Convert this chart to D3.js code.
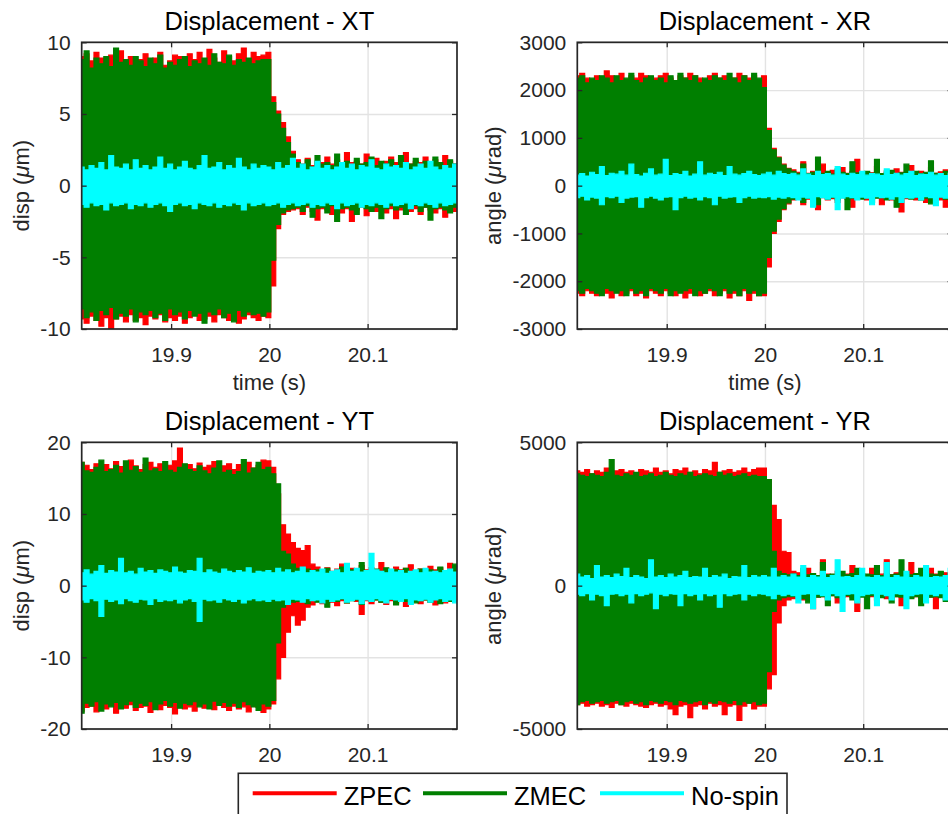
<!DOCTYPE html>
<html>
<head>
<meta charset="utf-8">
<script src="https://cdn.jsdelivr.net/npm/d3@7"></script>
<style>
  body { margin: 0; background: #fff; }
  svg { display: block; font-family: "Liberation Sans", Arial, Helvetica, sans-serif; }
</style>
</head>
<body>
<svg id="chart" width="948" height="814"></svg>
<script>
// logged samples: one envelope value (upper / lower) every 5 ms from t = 19.809 s
const sampleStart = 19.809;
const sampleStep = 0.005;

const timeDomain = [19.809, 20.191];
const timeTicks = [19.9, 20, 20.1];

const seriesNames = ["ZPEC", "ZMEC", "No-spin"];
const seriesColors = ["#ff0000", "#007f00", "#00ffff"];

// ---- XT (um)
const xtTicks = [-10, -5, 0, 5, 10];
const xtZpecHi = [9.0,9.2,8.7,9.3,8.9,8.6,9.1,8.8,9.4,8.7,9.0,8.5,8.8,9.2,8.6,8.9,9.3,8.4,8.7,9.1,9.0,8.6,9.2,8.8,9.3,8.7,9.5,8.9,8.6,9.4,9.0,8.7,9.2,9.6,8.8,9.3,9.0,9.1,
  9.3,6.2,5.2,4.4,3.4,2.4,
  1.8,1.5,1.9,1.4,1.7,1.6,2.0,1.5,1.8,1.4,2.3,1.6,1.7,1.5,2.2,1.6,1.9,1.5,1.7,2.0,1.6,1.8,2.3,1.5,1.7,1.6,2.0,1.5,1.8,1.6,2.1,1.7,1.5,1.8];
const xtZpecLo = [-9.3,-9.6,-9.1,-9.4,-9.8,-9.2,-10.0,-9.3,-9.1,-9.5,-9.0,-9.4,-9.2,-9.7,-9.1,-9.3,-9.0,-9.5,-9.2,-9.4,-9.1,-9.6,-9.2,-9.0,-9.4,-9.3,-9.1,-9.5,-9.0,-9.2,-9.4,-9.1,-9.6,-9.3,-9.0,-9.2,-9.4,-9.1,
  -9.2,-7.0,-3.0,-2.0,-1.8,-1.7,
  -1.6,-2.0,-1.5,-1.8,-2.4,-1.6,-1.7,-2.0,-1.5,-1.9,-1.6,-2.5,-1.7,-1.5,-2.1,-1.6,-1.8,-1.5,-1.9,-1.6,-2.3,-1.7,-1.5,-1.8,-1.6,-2.0,-1.5,-1.7,-1.9,-1.6,-2.2,-1.5,-1.8,-1.6];
const xtZmecHi = [8.8,9.4,8.2,8.9,8.5,9.0,8.3,9.6,8.6,8.8,8.4,9.0,8.7,8.3,8.9,8.5,9.1,8.2,8.6,8.4,8.8,9.0,8.3,8.7,8.5,8.9,8.4,9.2,8.6,8.5,9.1,8.4,8.8,8.6,8.9,8.5,8.7,8.8,
  8.8,5.8,5.0,4.0,3.0,2.2,
  1.6,1.4,1.8,1.3,2.1,1.5,1.6,1.4,2.2,1.5,1.7,1.3,1.9,1.5,1.6,2.0,1.4,1.7,1.5,1.8,1.4,2.1,1.6,1.5,1.9,1.4,1.7,1.5,2.0,1.6,1.4,1.8,1.5,1.7];
const xtZmecLo = [-8.6,-9.2,-8.8,-9.4,-8.7,-9.0,-8.5,-9.3,-8.9,-9.1,-8.6,-9.5,-8.8,-9.0,-8.7,-9.2,-8.9,-9.4,-8.6,-9.0,-8.8,-9.3,-8.7,-9.1,-8.9,-9.6,-8.8,-9.0,-8.6,-9.2,-8.9,-9.5,-8.7,-9.1,-8.8,-9.0,-8.9,-9.1,
  -8.8,-5.2,-2.7,-1.9,-1.7,-1.6,
  -1.5,-1.8,-1.4,-2.2,-1.6,-1.5,-1.9,-1.4,-2.5,-1.6,-1.5,-1.7,-2.0,-1.4,-1.6,-1.8,-1.5,-2.3,-1.6,-1.4,-1.7,-1.5,-2.0,-1.6,-1.4,-1.8,-1.5,-2.4,-1.6,-1.5,-1.7,-1.9,-1.5,-1.6];
const xtNoSpinHi = [1.3,1.1,1.4,1.2,1.6,1.1,2.1,1.3,1.2,1.5,1.1,1.8,1.2,1.4,1.1,1.3,2.0,1.2,1.5,1.1,1.3,1.7,1.2,1.1,1.4,2.1,1.2,1.3,1.6,1.1,1.4,1.2,1.9,1.3,1.1,1.5,1.2,1.4,
  1.3,1.1,1.6,1.2,1.4,1.9,
  1.2,1.5,1.1,1.3,1.7,1.2,1.4,1.1,1.3,1.6,1.2,1.5,1.1,1.4,1.3,1.8,1.2,1.1,1.5,1.3,1.4,1.2,1.6,1.1,1.3,1.5,1.2,1.7,1.3,1.1,1.4,1.2,1.5,1.3];
const xtNoSpinLo = [-1.3,-1.5,-1.2,-1.4,-1.3,-1.7,-1.2,-1.4,-1.3,-1.2,-1.6,-1.3,-1.4,-1.2,-1.5,-1.3,-1.2,-1.4,-1.8,-1.3,-1.2,-1.4,-1.3,-1.6,-1.2,-1.3,-1.4,-1.2,-1.5,-1.3,-1.4,-1.2,-1.3,-1.7,-1.2,-1.4,-1.3,-1.2,
  -1.4,-1.3,-1.2,-1.5,-1.3,-1.2,
  -1.4,-1.3,-1.2,-1.5,-1.3,-1.4,-1.2,-1.3,-1.6,-1.2,-1.4,-1.3,-1.2,-1.5,-1.3,-1.4,-1.2,-1.3,-1.5,-1.2,-1.4,-1.3,-1.2,-1.6,-1.3,-1.4,-1.2,-1.3,-1.5,-1.2,-1.4,-1.3,-1.2,-1.4];

// ---- XR (urad)
const xrTicks = [-3000, -2000, -1000, 0, 1000, 2000, 3000];
const xrZpecHi = [2300,2350,2250,2200,2300,2250,2400,2300,2250,2350,2200,2300,2250,2350,2300,2200,2250,2300,2350,2250,2200,2300,2250,2350,2300,2250,2200,2300,2350,2250,2300,2200,2250,2350,2300,2250,2300,2200,
  2300,1200,780,600,450,360,
  330,280,500,260,300,250,450,270,320,240,380,260,300,550,250,290,270,400,250,310,260,350,280,240,420,270,300,250,380,260,290,330,250,300];
const xrZpecLo = [-2250,-2300,-2200,-2250,-2300,-2200,-2250,-2350,-2200,-2300,-2250,-2200,-2300,-2250,-2350,-2200,-2250,-2300,-2200,-2250,-2300,-2200,-2350,-2250,-2200,-2300,-2250,-2200,-2300,-2250,-2200,-2350,-2250,-2300,-2200,-2400,-2250,-2300,
  -2300,-1700,-1000,-750,-500,-380,
  -300,-250,-400,-280,-260,-500,-250,-300,-270,-350,-250,-280,-450,-260,-250,-300,-280,-250,-400,-260,-300,-250,-550,-270,-250,-300,-260,-350,-250,-280,-300,-450,-260,-280];
const xrZmecHi = [2250,2300,2150,2250,2200,2300,2250,2150,2300,2200,2250,2350,2200,2150,2250,2300,2200,2250,2150,2300,2200,2350,2250,2200,2300,2150,2250,2200,2300,2250,2200,2350,2250,2150,2300,2200,2350,2250,
  2050,1150,750,580,430,350,
  300,260,450,250,280,600,260,300,240,350,280,250,500,270,240,300,260,550,250,280,320,240,270,450,260,300,250,280,520,260,240,300,270,600];
const xrZmecLo = [-2200,-2250,-2150,-2200,-2250,-2300,-2150,-2200,-2250,-2200,-2300,-2150,-2250,-2200,-2300,-2150,-2200,-2250,-2150,-2300,-2200,-2250,-2200,-2150,-2300,-2200,-2250,-2150,-2200,-2300,-2150,-2250,-2200,-2300,-2150,-2250,-2200,-2300,
  -2250,-1500,-950,-700,-480,-360,
  -280,-240,-350,-260,-250,-400,-240,-280,-250,-300,-240,-500,-260,-250,-280,-240,-350,-260,-250,-300,-240,-450,-260,-250,-280,-240,-300,-260,-380,-250,-240,-280,-260,-500];
const xrNoSpinHi = [220,250,200,280,230,400,210,260,240,300,220,450,230,200,260,350,220,240,550,210,250,230,300,200,240,500,220,260,230,280,210,400,240,220,250,300,230,210,
  240,280,220,300,250,230,
  260,220,350,240,210,300,230,250,220,400,240,210,260,230,300,220,250,240,210,350,230,260,220,250,300,210,240,230,280,220,250,210,260,240];
const xrNoSpinLo = [-250,-220,-300,-240,-260,-400,-230,-250,-220,-350,-260,-240,-230,-450,-250,-220,-260,-300,-240,-230,-500,-250,-220,-260,-240,-300,-230,-250,-400,-220,-260,-240,-230,-350,-250,-220,-260,-240,
  -250,-230,-280,-240,-260,-230,
  -250,-300,-240,-260,-450,-230,-250,-280,-240,-500,-260,-230,-250,-300,-240,-260,-400,-230,-250,-240,-280,-230,-350,-250,-260,-240,-300,-230,-250,-420,-240,-260,-230,-300];

// ---- YT (um)
const ytTicks = [-20, -10, 0, 10, 20];
const ytZpecHi = [17.2,16.8,16.2,17.0,16.5,16.9,16.3,17.3,16.6,16.4,17.5,16.7,16.2,16.9,17.2,16.5,17.0,16.4,16.8,17.4,19.2,16.6,16.9,16.3,17.1,16.5,16.8,17.3,16.4,16.7,17.0,16.2,16.9,16.6,17.2,16.4,16.8,17.5,
  17.4,16.5,12.8,8.5,7.2,6.0,
  5.2,4.9,5.6,3.0,2.6,2.2,2.5,2.0,2.3,3.0,2.1,2.4,2.0,2.8,2.2,2.5,2.1,3.2,2.3,2.0,2.6,2.2,2.4,2.9,2.1,2.3,2.0,2.7,2.2,2.5,2.1,3.1,2.4,2.2];
const ytZpecLo = [-17.5,-17.0,-16.8,-17.6,-16.9,-17.2,-16.7,-17.8,-16.9,-17.1,-16.6,-17.4,-17.0,-16.8,-17.7,-16.9,-17.3,-16.7,-17.0,-17.9,-16.8,-17.2,-16.9,-17.5,-16.7,-17.1,-16.8,-17.3,-16.6,-17.0,-17.4,-16.8,-17.2,-16.9,-17.6,-16.8,-17.0,-17.7,
  -17.2,-16.5,-13.0,-10.0,-6.5,-4.2,
  -5.5,-4.8,-3.0,-2.7,-2.2,-2.5,-2.0,-2.3,-2.8,-2.1,-2.4,-2.0,-2.2,-4.0,-2.1,-2.5,-2.0,-2.3,-2.6,-2.1,-2.4,-2.0,-2.9,-2.2,-2.1,-2.5,-2.0,-2.3,-2.7,-2.1,-2.4,-2.0,-2.2,-2.6];
const ytZmecHi = [17.2,16.0,15.8,16.5,17.5,15.9,16.2,16.8,15.7,17.4,16.1,16.6,15.8,17.8,16.0,16.3,15.9,17.3,16.1,15.8,16.5,17.0,16.2,15.9,16.7,16.0,15.6,16.4,17.4,15.8,16.1,15.5,15.9,17.6,15.7,16.4,17.2,16.2,
  16.5,15.6,14.2,4.8,4.4,3.0,
  2.4,2.0,2.3,1.9,2.2,2.0,2.4,1.8,2.1,2.6,1.9,2.2,2.0,3.2,2.1,1.9,2.3,2.0,2.5,1.9,2.2,2.0,2.4,1.8,2.1,2.3,1.9,2.2,2.0,2.6,1.9,2.2,3.0,2.1];
const ytZmecLo = [-17.8,-16.4,-16.8,-16.2,-17.5,-16.5,-16.9,-16.3,-17.2,-16.6,-16.1,-17.0,-16.4,-16.7,-16.2,-17.3,-16.5,-16.0,-16.8,-16.3,-17.1,-16.4,-16.6,-16.2,-16.9,-16.5,-17.2,-16.1,-16.7,-16.3,-16.8,-16.4,-17.0,-16.2,-16.6,-16.9,-17.4,-16.5,
  -16.8,-16.0,-8.0,-3.0,-2.5,-2.3,
  -2.2,-2.0,-2.5,-1.9,-2.3,-2.1,-3.0,-2.0,-2.2,-1.9,-2.4,-2.1,-2.0,-2.6,-1.9,-2.2,-2.0,-2.3,-2.1,-1.9,-2.7,-2.0,-2.2,-1.9,-2.4,-2.1,-2.0,-2.3,-1.9,-2.5,-2.0,-2.2,-1.9,-2.3];
const ytNoSpinHi = [1.8,2.2,1.6,2.0,2.8,1.7,2.1,1.9,3.8,1.8,2.0,1.6,2.4,1.9,2.1,1.7,2.2,2.0,1.8,2.6,1.9,1.7,2.1,2.0,3.8,1.8,2.2,1.9,1.7,2.3,2.0,1.8,2.1,1.9,2.5,1.7,2.0,1.9,
  2.1,1.8,2.4,1.9,2.2,1.8,
  2.0,2.6,1.8,2.1,1.9,2.3,1.7,2.0,2.2,1.8,3.1,2.0,2.4,1.9,2.1,4.5,2.2,2.0,1.8,2.3,1.9,2.1,1.7,2.0,2.2,1.8,2.4,1.9,2.0,1.8,2.1,2.3,1.9,2.0];
const ytNoSpinLo = [-2.0,-2.3,-1.8,-2.1,-4.3,-1.9,-2.2,-2.0,-2.5,-1.8,-2.1,-2.3,-1.9,-2.0,-2.6,-1.8,-2.2,-2.0,-2.1,-1.9,-2.4,-2.0,-1.8,-2.2,-5.0,-1.9,-2.1,-2.0,-2.3,-1.8,-2.0,-2.2,-1.9,-2.4,-2.0,-1.8,-2.1,-2.0,
  -2.2,-1.9,-2.1,-2.0,-2.6,-1.9,
  -2.0,-2.3,-1.8,-2.1,-2.0,-2.4,-1.9,-2.2,-2.0,-1.8,-2.3,-2.1,-1.9,-2.5,-2.0,-2.2,-1.8,-2.1,-2.4,-1.9,-2.0,-2.2,-1.8,-2.6,-2.0,-2.1,-1.9,-2.3,-2.0,-1.8,-2.2,-2.0,-2.4,-1.9];

// ---- YR (urad)
const yrTicks = [-5000, 0, 5000];
const yrZpecHi = [4000,3950,4050,3900,4000,3950,4100,3900,4000,4050,3950,4000,3900,4050,4000,3950,4100,3950,4000,3900,4050,4000,4100,3950,4000,3900,4050,4000,4300,3950,4000,4050,3950,4000,4100,3950,4050,4100,
  4100,3700,2800,2300,1200,1150,
  500,450,350,600,400,350,900,400,350,500,380,400,700,350,420,380,600,350,400,900,380,450,350,400,800,380,420,350,600,400,380,450,350,500];
const yrZpecLo = [-4150,-4100,-4200,-4150,-4100,-4200,-4150,-4250,-4100,-4150,-4200,-4100,-4150,-4200,-4250,-4150,-4100,-4200,-4150,-4300,-4500,-4200,-4150,-4600,-4200,-4150,-4300,-4100,-4200,-4150,-4500,-4200,-4150,-4700,-4200,-4100,-4300,-4200,
  -4200,-3600,-3100,-1300,-700,-500,
  -450,-400,-500,-350,-800,-400,-380,-450,-350,-600,-400,-380,-420,-900,-350,-400,-380,-500,-350,-450,-400,-380,-700,-350,-420,-380,-450,-350,-400,-800,-380,-400,-350,-600];
const yrZmecHi = [3900,3850,3800,3900,3850,3800,3950,4400,3850,3800,3900,3850,3950,3800,3850,3900,3800,3850,3950,3850,3800,3900,3850,3950,3800,3850,3900,3850,3800,3950,3850,3900,3800,3850,3900,3800,3850,3800,
  3800,3700,1200,500,420,380,
  400,350,600,380,420,350,800,380,400,350,500,380,420,600,350,400,380,700,350,420,380,400,900,350,380,420,600,350,400,380,500,350,420,380];
const yrZmecLo = [-4150,-4050,-4000,-4100,-4050,-4000,-4100,-4050,-4000,-4150,-4050,-4000,-4100,-4050,-4150,-4000,-4050,-4100,-4000,-4050,-4150,-4000,-4050,-4100,-4050,-4000,-4150,-4050,-4100,-4000,-4050,-4100,-4000,-4150,-4050,-4100,-4050,-4150,
  -4100,-3000,-900,-500,-420,-380,
  -380,-350,-450,-600,-350,-400,-380,-700,-350,-420,-380,-350,-500,-380,-400,-800,-350,-380,-420,-350,-600,-380,-400,-350,-450,-380,-700,-350,-400,-380,-420,-550,-350,-400];
const yrNoSpinHi = [400,300,350,250,700,300,350,280,400,320,600,280,350,300,250,900,300,350,280,400,300,350,500,280,320,300,600,280,350,300,400,250,320,300,700,280,350,300,
  350,300,600,300,350,300,
  400,300,700,280,350,300,500,280,350,900,300,320,280,350,600,300,280,350,300,800,280,350,300,500,280,350,300,700,280,320,300,350,600,300];
const yrNoSpinLo = [-300,-350,-280,-500,-300,-350,-700,-300,-280,-350,-300,-600,-280,-350,-300,-250,-800,-300,-350,-280,-300,-700,-280,-350,-300,-500,-280,-350,-300,-750,-280,-350,-300,-280,-500,-300,-350,-280,
  -300,-350,-450,-300,-350,-300,
  -350,-600,-300,-280,-800,-300,-350,-500,-280,-350,-900,-300,-280,-600,-350,-300,-280,-700,-300,-350,-500,-280,-300,-800,-350,-300,-280,-600,-300,-350,-280,-500,-300,-700];

class SignalPanel {

  constructor(_config) {
    this.config = {
      parent: _config.parent,
      id: _config.id,
      left: _config.left,
      top: _config.top,
      width: _config.width || 375.3,
      height: _config.height || 286.7,
      title: _config.title,
      yLabel: _config.yLabel,
      yLabelOffset: _config.yLabelOffset,
      yDomain: _config.yDomain,
      yTicks: _config.yTicks,
      series: _config.series,
      showXLabel: _config.showXLabel
    };
    this.initVis();
  }

  initVis() {
    let vis = this;
    let c = vis.config;

    vis.g = c.parent.append("g")
        .attr("transform", `translate(${c.left},${c.top})`);

    vis.x = d3.scaleLinear().domain(timeDomain).range([0, c.width]);
    vis.y = d3.scaleLinear().domain(c.yDomain).range([c.height, 0]);

    vis.g.append("clipPath")
        .attr("id", "clip-" + c.id)
      .append("rect")
        .attr("width", c.width)
        .attr("height", c.height);
  }

  render() {
    let vis = this;
    let c = vis.config;
    const ink = "#262626";

    // grid
    let grid = vis.g.append("g").attr("class", "grid");
    grid.append("g")
        .attr("transform", `translate(0,${c.height})`)
        .call(d3.axisBottom(vis.x).tickValues(timeTicks).tickSize(-c.height).tickFormat(""));
    grid.append("g")
        .call(d3.axisLeft(vis.y).tickValues(c.yTicks).tickSize(-c.width).tickFormat(""));
    grid.selectAll(".domain").remove();
    grid.selectAll("line").attr("stroke", "#e3e3e3").attr("stroke-width", 1.4);

    // signal envelopes, drawn in legend order
    let plot = vis.g.append("g").attr("clip-path", `url(#clip-${c.id})`);
    c.series.forEach((s, k) => {
      let rows = s.hi.map((v, i) => ({ t: sampleStart + i * sampleStep, hi: v, lo: s.lo[i] }));
      let area = d3.area()
          .curve(d3.curveStep)
          .x(d => vis.x(d.t))
          .y0(d => vis.y(d.lo))
          .y1(d => vis.y(d.hi));
      plot.append("path")
          .datum(rows)
          .attr("d", area)
          .attr("fill", seriesColors[k])
          .attr("stroke", seriesColors[k])
          .attr("stroke-width", 1.2);
    });

    // axes with inward ticks
    let fmt = d => String(d);
    let xAxis = vis.g.append("g")
        .attr("transform", `translate(0,${c.height})`)
        .call(d3.axisBottom(vis.x).tickValues(timeTicks).tickSizeInner(-5).tickSizeOuter(0).tickPadding(18).tickFormat(fmt));
    let yAxis = vis.g.append("g")
        .call(d3.axisLeft(vis.y).tickValues(c.yTicks).tickSizeInner(-5).tickSizeOuter(0).tickPadding(11).tickFormat(fmt));
    let xTop = vis.g.append("g")
        .call(d3.axisTop(vis.x).tickValues(timeTicks).tickSizeInner(-5).tickSizeOuter(0).tickFormat(""));
    let yRight = vis.g.append("g")
        .attr("transform", `translate(${c.width},0)`)
        .call(d3.axisRight(vis.y).tickValues(c.yTicks).tickSizeInner(-5).tickSizeOuter(0).tickFormat(""));

    [xAxis, yAxis, xTop, yRight].forEach(a => {
      a.select(".domain").remove();
      a.selectAll("line").attr("stroke", ink).attr("stroke-width", 1.3);
      a.selectAll("text")
          .attr("fill", ink)
          .style("font-size", "21px")
          .style("font-family", "'Liberation Sans', Arial, sans-serif");
    });

    vis.g.append("rect")
        .attr("width", c.width)
        .attr("height", c.height)
        .attr("fill", "none")
        .attr("stroke", ink)
        .attr("stroke-width", 1.7);

    // title
    vis.g.append("text")
        .attr("x", c.width / 2)
        .attr("y", -12.3)
        .attr("text-anchor", "middle")
        .attr("fill", "#000")
        .style("font-size", "25.5px")
        .text(c.title);

    // y label with italic mu
    let yl = vis.g.append("text")
        .attr("transform", `translate(${-c.yLabelOffset},${c.height / 2}) rotate(-90)`)
        .attr("text-anchor", "middle")
        .attr("fill", ink)
        .style("font-size", "22px");
    yl.append("tspan").text(c.yLabel[0] + " (");
    yl.append("tspan").attr("font-style", "italic").text("\u03bc");
    yl.append("tspan").text(c.yLabel[1] + ")");

    if (c.showXLabel) {
      vis.g.append("text")
          .attr("x", c.width / 2)
          .attr("y", c.height + 61)
          .attr("text-anchor", "middle")
          .attr("fill", ink)
          .style("font-size", "22px")
          .text("time (s)");
    }
  }
}

const svg = d3.select("#chart");

const panels = [
  { id: "xt", left: 81.7, top: 42.3, title: "Displacement - XT", yLabel: ["disp", "m"], yLabelOffset: 52.7,
    yDomain: [-10, 10], yTicks: xtTicks, showXLabel: true,
    series: [{ hi: xtZpecHi, lo: xtZpecLo }, { hi: xtZmecHi, lo: xtZmecLo }, { hi: xtNoSpinHi, lo: xtNoSpinLo }] },
  { id: "xr", left: 577.3, top: 42.3, title: "Displacement - XR", yLabel: ["angle", "rad"], yLabelOffset: 76.5,
    yDomain: [-3000, 3000], yTicks: xrTicks, showXLabel: true,
    series: [{ hi: xrZpecHi, lo: xrZpecLo }, { hi: xrZmecHi, lo: xrZmecLo }, { hi: xrNoSpinHi, lo: xrNoSpinLo }] },
  { id: "yt", left: 81.7, top: 442.3, title: "Displacement - YT", yLabel: ["disp", "m"], yLabelOffset: 52.7,
    yDomain: [-20, 20], yTicks: ytTicks, showXLabel: false,
    series: [{ hi: ytZpecHi, lo: ytZpecLo }, { hi: ytZmecHi, lo: ytZmecLo }, { hi: ytNoSpinHi, lo: ytNoSpinLo }] },
  { id: "yr", left: 577.3, top: 442.3, title: "Displacement - YR", yLabel: ["angle", "rad"], yLabelOffset: 76.5,
    yDomain: [-5000, 5000], yTicks: yrTicks, showXLabel: false,
    series: [{ hi: yrZpecHi, lo: yrZpecLo }, { hi: yrZmecHi, lo: yrZmecLo }, { hi: yrNoSpinHi, lo: yrNoSpinLo }] }
];

panels.forEach(p => {
  let panel = new SignalPanel(Object.assign({ parent: svg }, p));
  panel.render();
});

// legend
let legend = svg.append("g").attr("transform", "translate(238.3,773.3)");
legend.append("rect")
    .attr("width", 548.7)
    .attr("height", 60)
    .attr("fill", "#fff")
    .attr("stroke", "#262626")
    .attr("stroke-width", 1.6);
const legendLineX = [14.4, 184.7, 361.7];
seriesNames.forEach((name, k) => {
  let item = legend.append("g").attr("transform", `translate(${legendLineX[k]},20)`);
  item.append("line")
      .attr("x1", 0).attr("x2", 84)
      .attr("stroke", seriesColors[k])
      .attr("stroke-width", 4);
  item.append("text")
      .attr("x", 91)
      .attr("y", 11.7)
      .attr("fill", "#000")
      .style("font-size", "25.5px")
      .text(name);
});
</script>
</body>
</html>
